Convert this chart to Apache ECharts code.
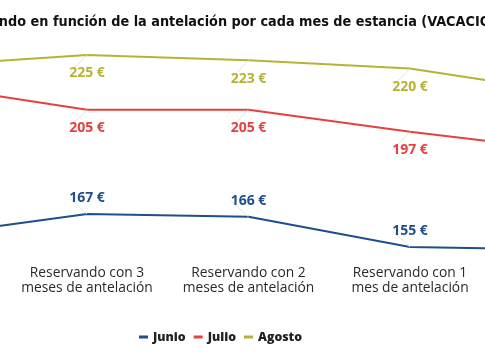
<!DOCTYPE html>
<html><head><meta charset="utf-8">
<script src="https://cdn.jsdelivr.net/npm/echarts@6/dist/echarts.min.js"></script>
<style>html,body{margin:0;padding:0;width:485px;height:360px;overflow:hidden;background:#fff;position:relative}
#c{position:absolute;left:-200px;top:0;width:1000px;height:360px}</style>
</head><body><div id="c"></div>
<script>
const titleText = 'Precio medio reservando en función de la antelación por cada mes de estancia (VACACIONES DE VERANO)';
const categories = [
  'Reservando con 4\nmeses de antelación',
  'Reservando con 3\nmeses de antelación',
  'Reservando con 2\nmeses de antelación',
  'Reservando con 1\nmes de antelación',
  'Reservando la\núltima semana'
];
const junio = [159, 167, 166, 155, 154];
const julio = [214, 205, 205, 197, 190];
const agosto = [221, 225, 223, 220, 211];
const seriesNames = ['Junio', 'Julio', 'Agosto'];
const colors = ['#1f4e8a', '#e5413f', '#b5b337'];

const OFFSET = 200;
const titleFamily = 'DejaVu Sans Condensed';
const titleSize = 14.3;
const cv = document.createElement('canvas').getContext('2d');
cv.font = 'bold ' + titleSize + 'px "' + titleFamily + '"';
const pre = 'Precio medio reservan';
const titleLeft = OFFSET + 3 - cv.measureText(pre).width;

const chart = echarts.init(document.getElementById('c'), null, {renderer: 'canvas'});
function mk(name, data, color, dy) {
  return {
    name, type: 'line', data, symbol: 'circle', symbolSize: 0,
    itemStyle: {color},
    lineStyle: {color, width: 2},
    label: {show: true, position: 'inside', formatter: '{c} €', color,
      fontFamily: 'Open Sans', fontWeight: 'bold', fontSize: 14},
    labelLayout: {dy},
    labelLine: {show: true, length2: 0, lineStyle: {color: '#e3e3e3', width: 1}},
    emphasis: {disabled: true}, animation: false
  };
}
chart.setOption({
  animation: false,
  title: {text: titleText, left: titleLeft, top: 10,
    textStyle: {fontFamily: titleFamily, fontWeight: 'bold', fontSize: titleSize, color: '#111'}},
  legend: {data: seriesNames.map((n, i) => ({name: n, itemStyle: {color: colors[i]}})),
    left: OFFSET + 134, top: 326, icon: 'rect', itemWidth: 9, itemHeight: 3, itemGap: 8,
    textStyle: {fontFamily: 'Open Sans', fontWeight: 800, fontSize: 12.3, color: '#222'}},
  grid: {left: OFFSET - 74.5, right: 1000 - (OFFSET + 571.5), top: 0, height: 260.7},
  xAxis: {type: 'category', data: categories, boundaryGap: false,
    axisLine: {show: false}, axisTick: {show: false}, splitLine: {show: false},
    axisLabel: {interval: 0, margin: 5, fontFamily: 'Open Sans', fontSize: 13.8, color: '#2a2a2a', lineHeight: 15}},
  yAxis: {type: 'value', min: 150, max: 245, show: false, splitLine: {show: false}},
  series: [mk('Junio', junio, colors[0], -16), mk('Julio', julio, colors[1], 18.5), mk('Agosto', agosto, colors[2], 18.5)]
});
</script></body></html>
